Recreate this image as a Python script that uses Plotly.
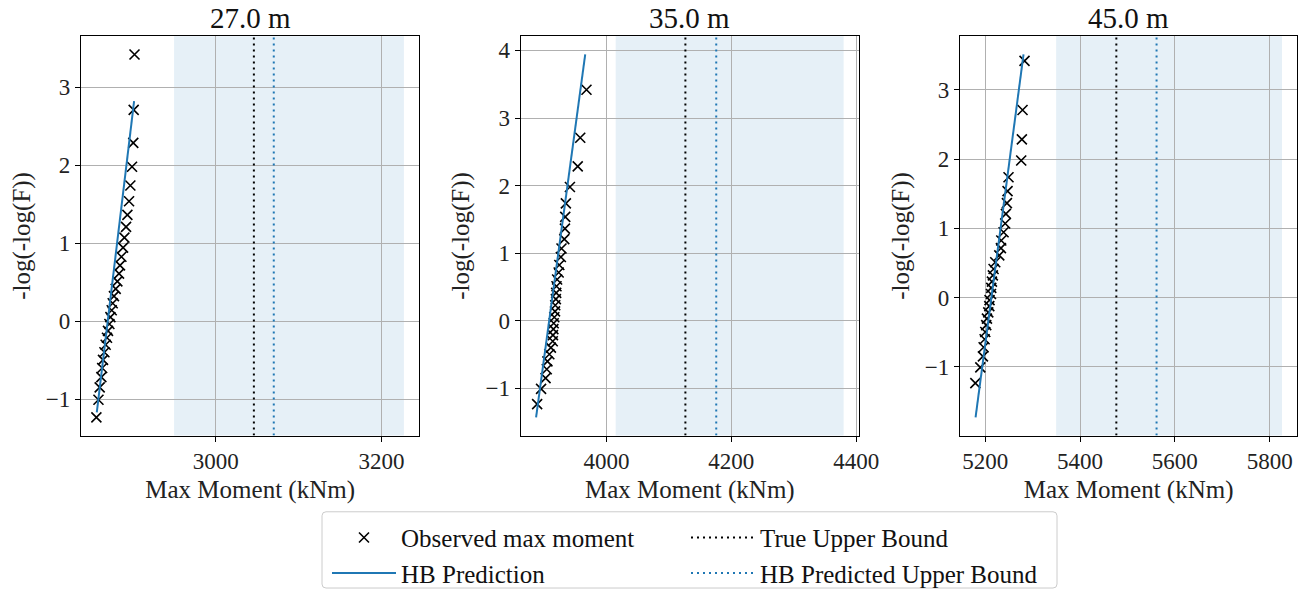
import plotly.graph_objects as go

# ---------------- data ----------------
panel_titles = ["27.0 m", "35.0 m", "45.0 m"]

# Gumbel plotting positions (y) shared by the three panels
y_obs = [-1.234, -1.008, -0.848, -0.717, -0.601, -0.496, -0.398, -0.303, -0.213, -0.124,
         -0.036, 0.052, 0.140, 0.230, 0.320, 0.413, 0.510, 0.610, 0.714, 0.825,
         0.943, 1.070, 1.209, 1.363, 1.537, 1.738, 1.979, 2.285, 2.708, 3.418]

x_obs_27 = [2856, 2858.5, 2860, 2862, 2863, 2864, 2865.7, 2867.2, 2868.8, 2870,
            2871.7, 2872.9, 2874.5, 2875.7, 2877.2, 2879.3, 2881.3, 2883.3, 2884.5, 2886.2,
            2888.2, 2889.8, 2891.8, 2893.4, 2895.4, 2897, 2899, 2900.5, 2901, 2902]
x_obs_35 = [3889, 3895.3, 3902.5, 3904.4, 3905.5, 3908.5, 3911, 3914, 3914.3, 3915,
            3915.5, 3916.5, 3917.6, 3918, 3919, 3919.5, 3920, 3921, 3923.5, 3924.5,
            3927, 3928, 3932.5, 3933.5, 3934, 3935, 3941.5, 3954, 3958, 3968]
x_obs_45 = [5179, 5189.5, 5195, 5196.5, 5198.6, 5200, 5202, 5203.5, 5206.3, 5208.5,
            5209, 5212, 5212.6, 5214, 5216, 5217.5, 5221, 5229.5, 5233, 5233.7,
            5238.6, 5242, 5243.5, 5245.6, 5247, 5249, 5275.8, 5277.2, 5278.6, 5282.8]
x_obs = [x_obs_27, x_obs_35, x_obs_45]

# HB prediction (straight line end points)
hb_x = [[2856.5, 2901.5], [3887.3, 3966.0], [5179.5, 5280.7]]
hb_y = [[-1.17, 2.82], [-1.43, 3.94], [-1.73, 3.51]]

# shaded interval of the HB predicted bound
band_lo = [2949.7, 4014.8, 5349.5]
band_hi = [3227.0, 4379.8, 5826.0]

true_ub = [3046.0, 4126.4, 5476.5]
hb_ub = [3070.0, 4175.8, 5561.4]

# ---------------- layout constants ----------------
W, H = 1307, 596
FONT = "Liberation Serif, Times New Roman, serif"
BLUE = "#1f77b4"
BLACK = "#000000"
dom_px = [(81, 419.3), (520.7, 859), (960, 1297.3)]
y_top_px, y_bot_px = 36.7, 440

fig = go.Figure()
shapes = []
annotations = []


def pad_range(vals, frac=0.05):
    lo, hi = min(vals), max(vals)
    s = hi - lo
    return [lo - frac * s, hi + frac * s]


for i in range(3):
    xa = "x" if i == 0 else f"x{i+1}"
    ya = "y" if i == 0 else f"y{i+1}"
    xr = pad_range(x_obs[i] + hb_x[i] + [band_lo[i], band_hi[i], true_ub[i], hb_ub[i]])
    yr = pad_range(y_obs + hb_y[i])
    first = i == 0

    # shaded band
    shapes.append(dict(type="rect", xref=xa, yref=f"{ya} domain",
                       x0=band_lo[i], x1=band_hi[i], y0=0, y1=1,
                       fillcolor="rgba(31,119,180,0.11)", line=dict(width=0),
                       layer="below"))

    fig.add_trace(go.Scatter(x=x_obs[i], y=y_obs, mode="markers", xaxis=xa, yaxis=ya,
                             name="Observed max moment", legend="legend",
                             showlegend=first, legendgroup="obs",
                             marker=dict(symbol="x-thin", size=10, color=BLACK,
                                         line=dict(color=BLACK, width=1.6))))
    fig.add_trace(go.Scatter(x=hb_x[i], y=hb_y[i], mode="lines", xaxis=xa, yaxis=ya,
                             name="HB Prediction", legend="legend",
                             showlegend=first, legendgroup="hb",
                             line=dict(color=BLUE, width=2)))
    fig.add_trace(go.Scatter(x=[true_ub[i], true_ub[i]], y=yr, mode="lines", xaxis=xa, yaxis=ya,
                             name="True Upper Bound", legend="legend2",
                             showlegend=first, legendgroup="tub",
                             line=dict(color=BLACK, width=2, dash="2px,4px")))
    fig.add_trace(go.Scatter(x=[hb_ub[i], hb_ub[i]], y=yr, mode="lines", xaxis=xa, yaxis=ya,
                             name="HB Predicted Upper Bound", legend="legend2",
                             showlegend=first, legendgroup="hbub",
                             line=dict(color=BLUE, width=2, dash="2px,4px")))

    ax_common = dict(showline=True, mirror=True, linecolor=BLACK, linewidth=1.2,
                     ticks="outside", ticklen=5, tickwidth=1.2, tickcolor=BLACK,
                     showgrid=True, gridcolor="#b0b0b0", gridwidth=1, zeroline=False,
                     tickfont=dict(family=FONT, size=23, color="#222222"),
                     automargin=False)
    x0p, x1p = dom_px[i]
    fig.layout[("xaxis" if i == 0 else f"xaxis{i+1}")] = dict(
        ax_common, domain=[x0p / W, x1p / W], range=xr, dtick=200, tick0=0,
        anchor=ya, title=dict(text="Max Moment (kNm)", standoff=7,
                              font=dict(family=FONT, size=25, color="#222222")))
    fig.layout[("yaxis" if i == 0 else f"yaxis{i+1}")] = dict(
        ax_common, domain=[1 - y_bot_px / H, 1 - y_top_px / H], range=yr, dtick=1, tick0=0,
        anchor=xa, title=dict(text="-log(-log(F))", standoff=8,
                              font=dict(family=FONT, size=25, color="#222222")))

    annotations.append(dict(text=panel_titles[i], xref="paper", yref="paper",
                            x=(x0p + x1p) / 2 / W, y=1 - 18 / H, xanchor="center",
                            yanchor="middle", showarrow=False,
                            font=dict(family=FONT, size=29, color="#111111")))

# legend frame (rounded rectangle in paper coords)
lx0, lx1 = 322 / W, 1057 / W
ly1, ly0 = 1 - 517 / H, 1 - 594 / H
rx, ry = 4 / W, 4 / H
path = (f"M {lx0+rx},{ly1} L {lx1-rx},{ly1} Q {lx1},{ly1} {lx1},{ly1-ry} "
        f"L {lx1},{ly0+ry} Q {lx1},{ly0} {lx1-rx},{ly0} L {lx0+rx},{ly0} "
        f"Q {lx0},{ly0} {lx0},{ly0+ry} L {lx0},{ly1-ry} Q {lx0},{ly1} {lx0+rx},{ly1} Z")
shapes.append(dict(type="path", path=path, xref="paper", yref="paper",
                   line=dict(color="#cccccc", width=1), fillcolor="rgba(255,255,255,0.8)",
                   layer="above"))

leg_font = dict(family=FONT, size=25, color="#111111")
fig.update_layout(
    width=W, height=H,
    margin=dict(l=0, r=0, t=0, b=0),
    paper_bgcolor="white", plot_bgcolor="white",
    shapes=shapes, annotations=annotations,
    legend=dict(x=327 / W, y=1 - 520 / H, xanchor="left", yanchor="top",
                font=leg_font, bgcolor="rgba(0,0,0,0)", borderwidth=0,
                itemwidth=64, tracegroupgap=0, orientation="v"),
    legend2=dict(x=686 / W, y=1 - 520 / H, xanchor="left", yanchor="top",
                 font=leg_font, bgcolor="rgba(0,0,0,0)", borderwidth=0,
                 itemwidth=64, tracegroupgap=0, orientation="v"),
)

fig.write_html("out.html")
